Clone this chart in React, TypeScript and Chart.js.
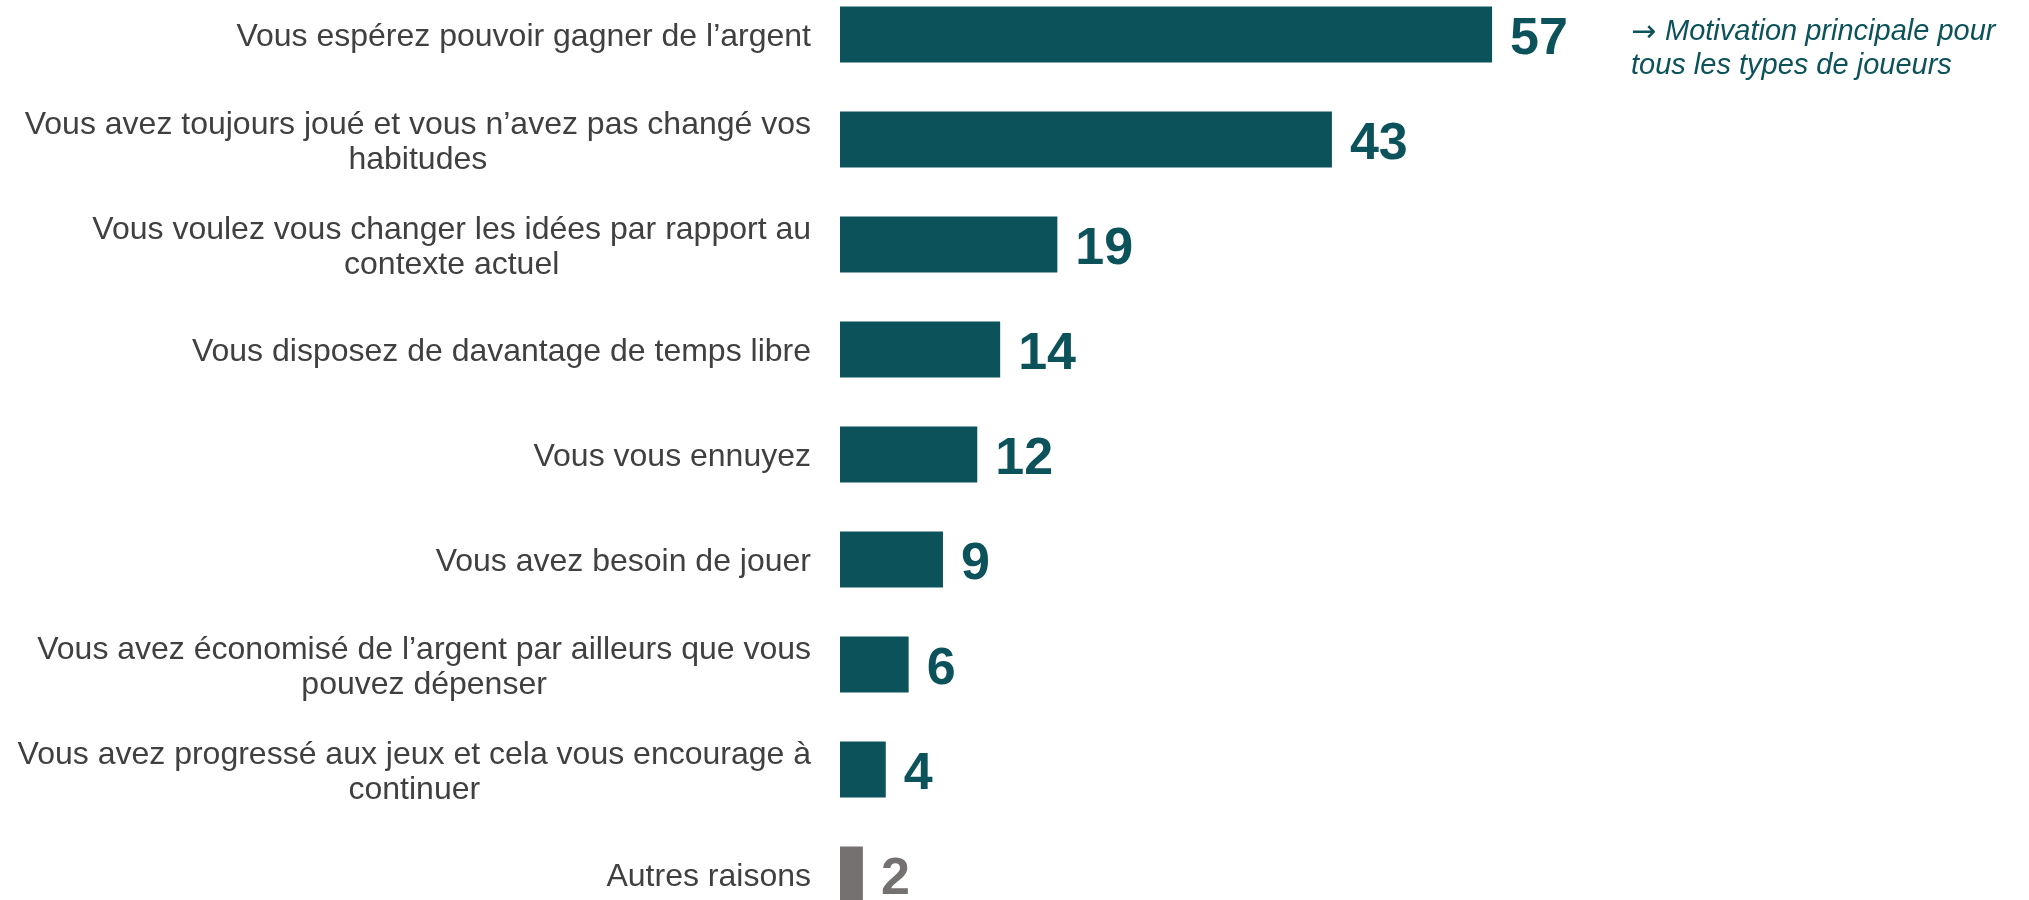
import React, { useEffect, useRef } from "react";
import { Chart, registerables } from "chart.js";

Chart.register(...registerables);

const categories: string[][] = [
  ["Vous espérez pouvoir gagner de l’argent"],
  ["Vous avez toujours joué et vous n’avez pas changé vos", "habitudes"],
  ["Vous voulez vous changer les idées par rapport au", "contexte actuel"],
  ["Vous disposez de davantage de temps libre"],
  ["Vous vous ennuyez"],
  ["Vous avez besoin de jouer"],
  ["Vous avez économisé de l’argent par ailleurs que vous", "pouvez dépenser"],
  ["Vous avez progressé aux jeux et cela vous encourage à", "continuer"],
  ["Autres raisons"],
];

const values: number[] = [57, 43, 19, 14, 12, 9, 6, 4, 2];

const annotationArrow = "→";
const annotationLines: string[] = [
  "Motivation principale pour",
  "tous les types de joueurs",
];

const TEAL = "#0c525a";
const GRAY = "#767171";
const LABEL_COLOR = "#404040";
const FONT = "Arial, 'Liberation Sans', sans-serif";

const barColors = values.map((_, i) => (i === values.length - 1 ? GRAY : TEAL));

const customDraw = {
  id: "customDraw",
  afterDatasetsDraw(chart: any) {
    const ctx = chart.ctx as CanvasRenderingContext2D;
    const yScale = chart.scales.y;
    const meta = chart.getDatasetMeta(0);
    ctx.save();
    // category labels: block right-aligned, lines centered within block
    ctx.font = `32px ${FONT}`;
    ctx.fillStyle = LABEL_COLOR;
    ctx.textAlign = "center";
    ctx.textBaseline = "alphabetic";
    const rightEdge = chart.chartArea.left - 29;
    const lineH = 35;
    categories.forEach((lines, i) => {
      const cy = yScale.getPixelForValue(i);
      const blockW = Math.max(...lines.map((l) => ctx.measureText(l).width));
      const cx = rightEdge - blockW / 2;
      const n = lines.length;
      lines.forEach((l, k) => {
        ctx.fillText(l, cx, cy + 11.5 + (k - (n - 1) / 2) * lineH);
      });
    });
    // value labels
    ctx.font = `bold 52px ${FONT}`;
    ctx.textAlign = "left";
    meta.data.forEach((bar: any, i: number) => {
      ctx.fillStyle = barColors[i];
      ctx.fillText(String(values[i]), bar.x + 18, bar.y + 19.5);
    });
    // annotation
    const y0 = yScale.getPixelForValue(0);
    ctx.fillStyle = TEAL;
    ctx.textAlign = "left";
    ctx.font = `30px 'DejaVu Sans', sans-serif`;
    ctx.fillText(annotationArrow, 1631, y0 + 6);
    ctx.font = `italic 29px ${FONT}`;
    ctx.fillText(annotationLines[0], 1665, y0 + 5);
    ctx.fillText(annotationLines[1], 1631, y0 + 39);
    ctx.restore();
  },
};

export default function App() {
  const ref = useRef<HTMLCanvasElement | null>(null);
  useEffect(() => {
    if (!ref.current) return;
    const chart = new Chart(ref.current, {
      type: "bar",
      data: {
        labels: categories,
        datasets: [
          {
            data: values,
            backgroundColor: barColors,
            borderWidth: 0,
            barPercentage: 0.533,
            categoryPercentage: 1,
          },
        ],
      },
      options: {
        indexAxis: "y",
        animation: false,
        responsive: true,
        maintainAspectRatio: false,
        layout: { padding: { left: 840, right: 45, top: 0, bottom: 0 } },
        plugins: {
          legend: { display: false },
          tooltip: { enabled: false },
        },
        scales: {
          x: { display: false, min: 0, max: 100 },
          y: { display: false },
        },
      },
      plugins: [customDraw],
    });
    return () => chart.destroy();
  }, []);
  return (
    <div
      style={{
        position: "fixed",
        left: 0,
        top: 0,
        width: 2029,
        height: 900,
        overflow: "hidden",
        background: "#fff",
      }}
    >
      <div style={{ position: "absolute", left: 0, top: -18, width: 2029, height: 945 }}>
        <canvas ref={ref} />
      </div>
    </div>
  );
}
